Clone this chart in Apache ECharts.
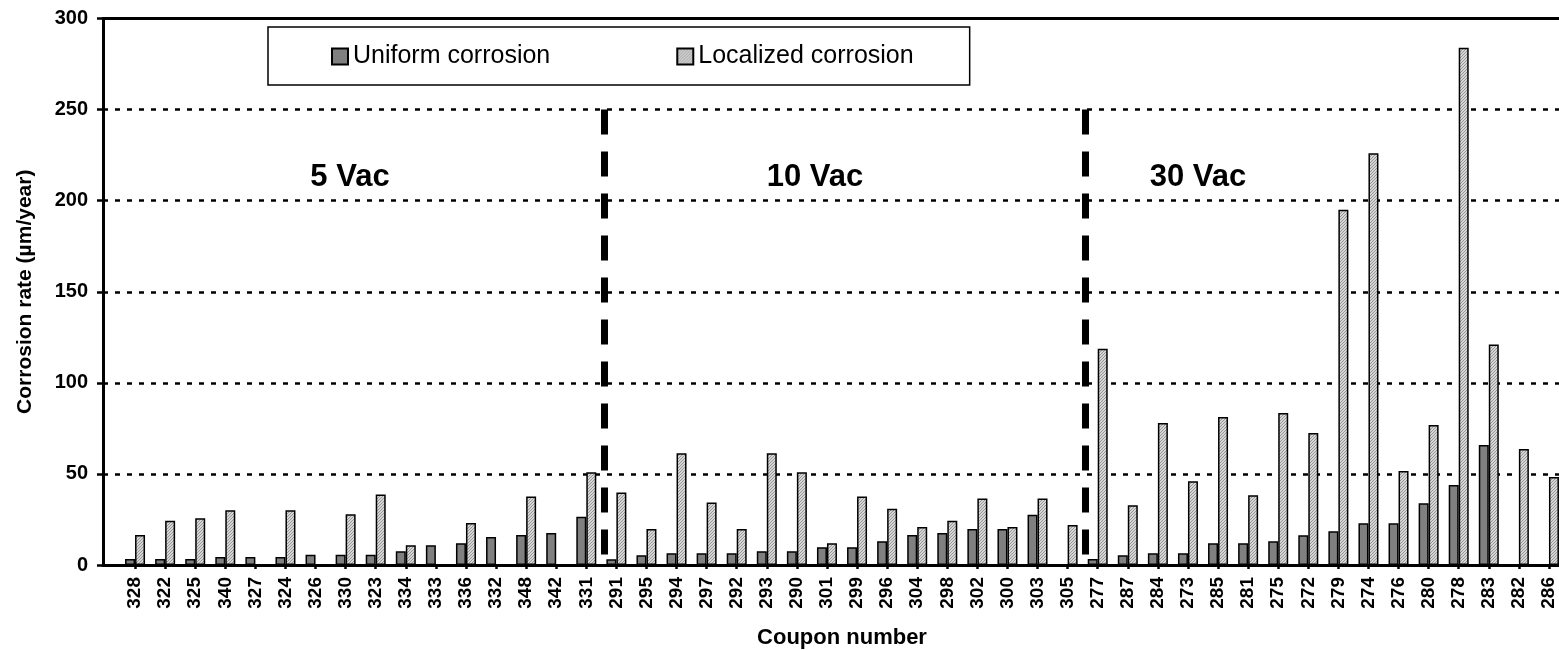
<!DOCTYPE html>
<html>
<head>
<meta charset="utf-8">
<script src="https://cdn.jsdelivr.net/npm/echarts@6/dist/echarts.min.js"></script>
<style>
html,body{margin:0;padding:0;background:#fff;}
#chart{width:1559px;height:650px;}
</style>
</head>
<body>
<div id="chart"></div>
<script>
var categories = ['328','322','325','340','327','324','326','330','323','334','333','336','332','348','342','331',
  '291','295','294','297','292','293','290','301','299','296','304','298','302','300','303','305',
  '277','287','284','273','285','281','275','272','279','274','276','280','278','283','282','286'];
var uniform = [3.3,3.3,3.3,4.4,4.4,4.4,5.6,5.6,5.6,7.6,10.9,12,15.4,16.5,17.6,26.5,
  3.1,5.4,6.5,6.5,6.5,7.6,7.6,9.8,9.8,13.1,16.5,17.6,19.8,19.8,27.6,null,
  3.3,5.3,6.4,6.4,11.9,11.9,13,16.3,18.5,22.9,22.9,33.9,43.9,65.9,null,null];
var localized = [16.5,24.3,25.6,30,null,30,null,27.8,38.7,10.9,null,23.1,null,37.6,null,50.9,
  39.8,19.8,61.3,34.3,19.8,61.3,50.9,12,37.6,30.9,20.9,24.3,36.5,20.9,36.5,22,
  118.7,32.8,78,46,81.3,38.3,83.5,72.5,195,226,51.6,76.9,284,121,63.7,48.3];
var seriesNames = ['Uniform corrosion','Localized corrosion'];
var regionLabels = ['5 Vac','10 Vac','30 Vac'];
var separatorIndex = [16, 32];
var yTicks = [0,50,100,150,200,250,300];

var FONT = '"Liberation Sans", Arial, sans-serif';

var cv = document.createElement('canvas');
cv.width = 3; cv.height = 3;
var cx = cv.getContext('2d');
cx.fillStyle = '#d6d6d6'; cx.fillRect(0,0,3,3);
cx.fillStyle = '#969696';
for (var i = 0; i < 3; i++) { cx.fillRect(i, 2 - i, 1, 1); }
var hatch = {image: cv, repeat: 'repeat'};

var chart = echarts.init(document.getElementById('chart'), null, {renderer: 'canvas'});
var option = {
  animation: false,
  backgroundColor: '#fff',
  textStyle: {fontFamily: FONT, color: '#000'},
  grid: [
    {left: 103, width: 1470, top: 18.5, bottom: 85, containLabel: false, outerBoundsMode: 'none'},
    {left: 120, width: 1444, top: 18.5, bottom: 85, containLabel: false, outerBoundsMode: 'none'}
  ],
  legend: {
    left: 268, top: 27,
    data: seriesNames,
    itemWidth: 16, itemHeight: 16, itemGap: 126,
    padding: [17, 56, 16, 63],
    borderColor: '#000', borderWidth: 1.5,
    textStyle: {fontSize: 25, fontFamily: FONT, color: '#000'},
    icon: 'rect'
  },
  xAxis: [
    {gridIndex: 0, type: 'value', min: 0, max: 1, show: true, position: 'bottom',
     axisLine: {show: true, lineStyle: {color: '#000', width: 3}},
     axisTick: {show: false}, axisLabel: {show: false}, splitLine: {show: false}},
    {gridIndex: 1, type: 'category', data: categories,
     axisLine: {show: false},
     axisTick: {show: true, alignWithLabel: true, length: 4, lineStyle: {color: '#000', width: 2.5}},
     axisLabel: {rotate: 90, interval: 0, fontSize: 19, fontWeight: 'bold', color: '#000', margin: 12, fontFamily: FONT},
     name: 'Coupon number', nameLocation: 'middle', nameGap: 62,
     nameTextStyle: {fontSize: 22, fontWeight: 'bold', color: '#000', fontFamily: FONT}},
    {gridIndex: 1, type: 'value', min: 0, max: categories.length, show: false},
    {gridIndex: 0, type: 'value', min: 0, max: 1, show: true, position: 'top',
     axisLine: {show: true, lineStyle: {color: '#000', width: 3}},
     axisTick: {show: false}, axisLabel: {show: false}, splitLine: {show: false}}
  ],
  yAxis: [
    {gridIndex: 0, type: 'value', min: yTicks[0], max: yTicks[yTicks.length-1], interval: 50,
     axisLine: {show: true, lineStyle: {color: '#000', width: 3}},
     axisTick: {show: true, length: 6, lineStyle: {color: '#000', width: 2.5}},
     axisLabel: {fontSize: 20, fontWeight: 'bold', color: '#000', margin: 15, fontFamily: FONT},
     splitLine: {show: true, lineStyle: {color: '#000', width: 2.5, type: [5, 7]}},
     name: 'Corrosion rate (µm/year)', nameLocation: 'middle', nameGap: 67,
     nameTextStyle: {fontSize: 21, fontWeight: 'bold', color: '#000', fontFamily: FONT}},
    {gridIndex: 1, type: 'value', min: 0, max: 300, show: false, splitLine: {show: false}}
  ],
  series: [
    {name: seriesNames[0], type: 'bar', xAxisIndex: 1, yAxisIndex: 1, data: uniform,
     barWidth: 10, barGap: '0%',
     itemStyle: {color: '#808080', borderColor: '#000', borderWidth: 1.5}},
    {name: seriesNames[1], type: 'bar', xAxisIndex: 1, yAxisIndex: 1, data: localized,
     barWidth: 10, barGap: '0%',
     itemStyle: {color: hatch, borderColor: '#000', borderWidth: 1.5}},
    {name: 'separators', type: 'line', xAxisIndex: 2, yAxisIndex: 1, data: [],
     markLine: {
       silent: true, symbol: ['none', 'none'], label: {show: false},
       lineStyle: {color: '#000', width: 7, type: [25, 17]},
       data: separatorIndex.map(function (s) { return [{coord: [s + 0.1, 250]}, {coord: [s + 0.1, 5]}]; })
     }}
  ],
  graphic: [
    {type: 'text', x: 350, y: 177, style: {text: regionLabels[0], font: 'bold 31px ' + FONT, fill: '#000', align: 'center', verticalAlign: 'middle'}},
    {type: 'text', x: 815, y: 177, style: {text: regionLabels[1], font: 'bold 31px ' + FONT, fill: '#000', align: 'center', verticalAlign: 'middle'}},
    {type: 'text', x: 1198, y: 177, style: {text: regionLabels[2], font: 'bold 31px ' + FONT, fill: '#000', align: 'center', verticalAlign: 'middle'}}
  ]
};
chart.setOption(option);
</script>
</body>
</html>
